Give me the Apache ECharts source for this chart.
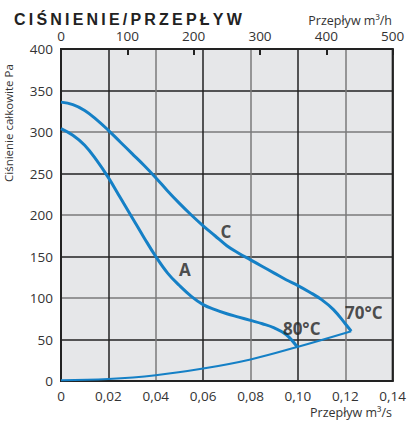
<!DOCTYPE html>
<html><head><meta charset="utf-8">
<script src="https://cdn.jsdelivr.net/npm/echarts@6/dist/echarts.min.js"></script>
<style>html,body{margin:0;padding:0;background:#fff}#c{width:409px;height:421px}</style>
</head><body><div id="c"></div>
<script>
// Curve A (m3/s, Pa)
const qA = [0, 0.005, 0.01, 0.015, 0.02, 0.025, 0.03, 0.035, 0.04, 0.045, 0.05, 0.055, 0.06, 0.065, 0.07, 0.075, 0.08, 0.085, 0.09, 0.095, 0.0997];
const pA = [304, 296, 284, 266, 245, 221, 197, 173, 150, 130, 115, 102, 92, 86, 81, 77, 73, 69, 64, 56, 41];
// Curve C
const qC = [0, 0.005, 0.01, 0.015, 0.02, 0.025, 0.03, 0.035, 0.04, 0.045, 0.05, 0.055, 0.06, 0.065, 0.07, 0.075, 0.08, 0.085, 0.09, 0.095, 0.10, 0.105, 0.11, 0.115, 0.12, 0.1225];
const pC = [336, 333, 326, 315, 302, 288, 274, 260, 245, 229, 214, 200, 187, 175, 163, 154, 146, 138, 130, 122, 115, 107, 98, 86, 69, 60];
// System curve
const qS = [0, 0.02, 0.04, 0.06, 0.08, 0.0997, 0.1225];
const pS = [1, 2.5, 7, 15, 26, 41, 60];
// Annotations
const noteText = ['C', 'A', '80°C', '70°C'];
const noteQ = [0.0696, 0.0523, 0.1016, 0.1278];
const noteP = [180, 134, 63, 83];
// Axis ticks
const xTicks = {min: 0, max: 0.14, interval: 0.02};
const x2Ticks = {min: 0, max: 500, interval: 100};
const yTicks = {min: 0, max: 400, interval: 50};
const TITLE = 'CIŚNIENIE/PRZEPŁYW';

const zip = (a, b) => a.map((v, i) => [v, b[i]]);
const BLUE = '#1580c6';
const FONT = '"Open Sans", "Noto Sans", sans-serif';
const gridColors = ['#7a7a7a', '#222222'];

const chart = echarts.init(document.getElementById('c'), null, {renderer: 'svg'});
chart.setOption({
  animation: false,
  backgroundColor: '#ffffff',
  title: {
    text: TITLE,
    left: 9, top: 6,
    textStyle: {fontFamily: '"Liberation Sans", Arial, sans-serif', fontWeight: 'bold', fontSize: 16, color: '#222'}
  },
  grid: {left: 61, right: 16, top: 49, bottom: 40, show: true, backgroundColor: '#e6e7e9', borderColor: '#222', borderWidth: 2},
  xAxis: [{
    type: 'value', position: 'bottom', min: xTicks.min, max: xTicks.max, interval: xTicks.interval,
    axisLine: {show: true, onZero: false, lineStyle: {color: '#222', width: 2}},
    axisTick: {show: false},
    axisLabel: {margin: 8, color: '#333', fontFamily: FONT, fontSize: 13.5,
      formatter: v => v === 0 ? '0' : v.toFixed(2).replace('.', ',')},
    splitLine: {show: true, lineStyle: {color: gridColors, width: 1.5}}
  }, {
    type: 'value', position: 'top', min: x2Ticks.min, max: x2Ticks.max, interval: x2Ticks.interval,
    axisLine: {show: true, onZero: false, lineStyle: {color: '#222', width: 2}},
    axisTick: {show: true, inside: true, length: 6, lineStyle: {color: '#222', width: 2}},
    axisLabel: {margin: 6, color: '#333', fontFamily: FONT, fontSize: 13.5},
    splitLine: {show: false}
  }],
  yAxis: [{
    type: 'value', min: yTicks.min, max: yTicks.max, interval: yTicks.interval,
    axisLine: {show: true, onZero: false, lineStyle: {color: '#222', width: 2}},
    axisTick: {show: false},
    axisLabel: {margin: 8, color: '#333', fontFamily: FONT, fontSize: 13.5},
    splitLine: {show: true, lineStyle: {color: gridColors, width: 1.5}}
  }],
  graphic: [
    {type: 'text', x: 8, y: 182, rotation: Math.PI / 2,
     style: {text: 'Ciśnienie całkowite Pa', fill: '#333', font: '11.5px ' + FONT, align: 'left', verticalAlign: 'middle'}},
    {type: 'text', x: 392, y: 20,
     style: {text: 'Przepływ m³/h', fill: '#333', font: '12.5px ' + FONT, align: 'right', verticalAlign: 'middle'}},
    {type: 'text', x: 392, y: 412,
     style: {text: 'Przepływ m³/s', fill: '#333', font: '12.5px ' + FONT, align: 'right', verticalAlign: 'middle'}}
  ],
  series: [
    {type: 'line', name: 'A', data: zip(qA, pA), smooth: 0.4, showSymbol: false, lineStyle: {color: BLUE, width: 3}, z: 3},
    {type: 'line', name: 'C', data: zip(qC, pC), smooth: 0.4, showSymbol: false, lineStyle: {color: BLUE, width: 3}, z: 3},
    {type: 'line', name: 'System', data: zip(qS, pS), smooth: 0.4, showSymbol: false, lineStyle: {color: BLUE, width: 2}, z: 3},
    {type: 'scatter', name: 'labels', symbolSize: 0, silent: true, z: 4,
     data: noteQ.map((q, i) => ({value: [q, noteP[i]], name: noteText[i]})),
     label: {show: true, position: 'inside', formatter: p => p.name, color: '#222', fontFamily: FONT, fontWeight: 'bold', fontSize: 17}}
  ]
});
// widen the title's letter spacing as in the reference
function spaceTitle() {
  document.querySelectorAll('#c svg text').forEach(t => {
    if (t.textContent === TITLE) t.setAttribute('letter-spacing', '3.2');
  });
}
spaceTitle();
chart.on('finished', spaceTitle);
</script></body></html>
